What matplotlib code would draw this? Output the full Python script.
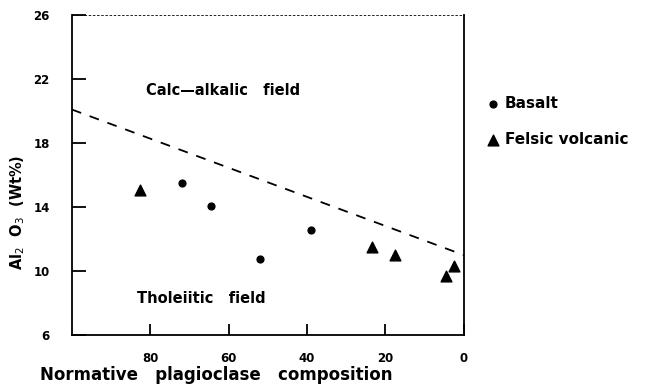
import matplotlib
matplotlib.use("Agg")
import matplotlib.pyplot as plt

# Values
basalt_an = [72, 64.5, 52, 39]
basalt_al2o3 = [15.5, 14.1, 10.75, 12.6]

felsic_an = [82.5, 23.5, 17.5, 4.5, 2.5]
felsic_al2o3 = [15.1, 11.5, 11.0, 9.7, 10.3]

# Calc-alkalic / tholeiitic boundary
boundary_an = [100, 0]
boundary_al2o3 = [20.1, 11.0]

x_ticks = [80, 60, 40, 20, 0]
y_ticks = [6, 10, 14, 18, 22, 26]

fig = plt.figure(figsize=(6.47, 3.87), dpi=100)
ax = fig.add_axes([0.111, 0.134, 0.606, 0.827])

ax.plot(boundary_an, boundary_al2o3, color='black', lw=1.3,
        linestyle=(0, (5.5, 5)))
ax.scatter(basalt_an, basalt_al2o3, marker='o', s=24, color='black',
           zorder=3, label='Basalt')
ax.scatter(felsic_an, felsic_al2o3, marker='^', s=60, color='black',
           zorder=3, label='Felsic volcanic')

ax.set_xlim(100, 0)
ax.set_ylim(6, 26)
ax.set_xticks(x_ticks)
ax.set_yticks(y_ticks)
ax.set_xticklabels([str(v) for v in x_ticks], fontsize=8.5, fontweight='bold')
ax.set_yticklabels([str(v) for v in y_ticks], fontsize=8.5, fontweight='bold')
ax.tick_params(axis='y', direction='in', length=10, width=1.3, pad=16)
ax.tick_params(axis='x', direction='in', length=8, width=1.3, pad=12)

for side in ['left', 'bottom', 'right']:
    ax.spines[side].set_linewidth(1.3)
ax.spines['top'].set_linewidth(0.6)
ax.spines['top'].set_linestyle((0, (2, 3)))

ax.text(61.3, 21.3, 'Calc\u2014alkalic   field', ha='center', va='center',
        fontsize=10.5, fontweight='bold')
ax.text(67, 8.3, 'Tholeiitic   field', ha='center', va='center',
        fontsize=10.5, fontweight='bold')

ax.legend(loc='upper left', bbox_to_anchor=(1.022, 0.79), frameon=False,
          prop={'size': 11, 'weight': 'bold'}, handletextpad=0.3,
          handlelength=0.9, labelspacing=1.35)

fig.text(0.027, 0.452, r'Al$_{2}$  O$_{3}$  (Wt%)', rotation=90,
         ha='center', va='center', fontsize=10.5, fontweight='bold')
fig.text(0.335, 0.03, 'Normative   plagioclase   composition',
         ha='center', va='center', fontsize=12, fontweight='bold')

fig.savefig('out.png', dpi=100)
